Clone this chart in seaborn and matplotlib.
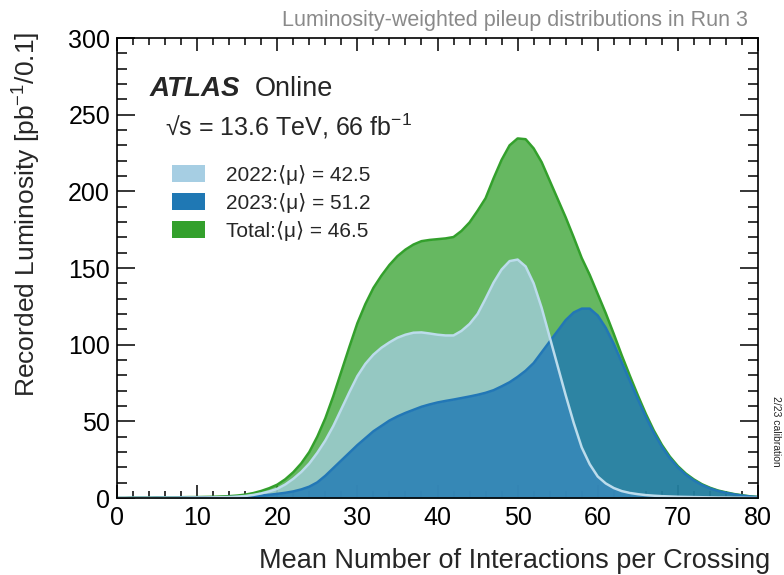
import numpy as np
import pandas as pd
import matplotlib
matplotlib.use("Agg")
import matplotlib.pyplot as plt
from matplotlib.patches import Patch
from matplotlib.ticker import MultipleLocator
import seaborn as sns

# ---------------- data ----------------
mu = list(range(0, 81))

lumi_2022 = [0.0, 0.0, 0.1, 0.1, 0.1, 0.1, 0.2, 0.2, 0.2, 0.3,
             0.3, 0.3, 0.4, 0.5, 0.6, 0.9, 1.3, 2.0, 3.0, 4.3,
             6.0, 8.8, 12.5, 17.0, 22.5, 29.5, 37.5, 47.0, 58.0, 69.0,
             79.5, 87.5, 93.5, 98.0, 101.5, 104.5, 106.5, 107.8, 108.0, 107.3,
             106.5, 106.0, 106.0, 109.0, 113.5, 120.0, 130.0, 140.5, 149.0, 154.5,
             155.5, 151.0, 140.0, 124.0, 105.0, 86.0, 67.0, 49.0, 33.0, 22.0,
             14.0, 9.5, 6.5, 4.5, 3.3, 2.5, 1.9, 1.5, 1.2, 1.0,
             0.8, 0.7, 0.6, 0.5, 0.4, 0.3, 0.3, 0.2, 0.2, 0.1,
             0.1]

lumi_2023 = [0.0, 0.0, 0.1, 0.1, 0.1, 0.2, 0.2, 0.2, 0.3, 0.3,
             0.3, 0.4, 0.4, 0.5, 0.6, 0.7, 0.9, 1.2, 1.6, 2.1,
             2.7, 3.4, 4.3, 5.6, 7.4, 10.2, 14.5, 19.5, 24.5, 29.5,
             34.5, 39.0, 43.5, 47.0, 50.5, 53.2, 55.5, 57.5, 59.5, 61.0,
             62.3, 63.3, 64.2, 65.2, 66.2, 67.3, 68.6, 70.3, 72.8, 75.5,
             79.0, 83.0, 88.0, 95.0, 102.0, 109.0, 116.0, 121.0, 123.5, 123.5,
             119.0, 111.0, 100.5, 88.5, 76.5, 64.5, 53.0, 42.5, 33.5, 26.0,
             20.0, 15.2, 11.5, 8.5, 6.3, 4.6, 3.4, 2.4, 1.6, 1.0,
             0.6]

lumi_total = [0.0, 0.0, 0.2, 0.2, 0.2, 0.3, 0.4, 0.4, 0.5, 0.6,
              0.6, 0.7, 0.8, 1.0, 1.2, 1.6, 2.2, 3.2, 4.6, 6.4,
              8.7, 12.2, 16.8, 22.6, 30.0, 40.0, 52.0, 66.5, 82.5, 98.5,
              114.0, 126.5, 137.0, 145.0, 152.0, 157.7, 162.0, 165.3, 167.5, 168.3,
              168.8, 169.3, 170.2, 174.2, 179.7, 187.3, 195.5, 208.5, 220.5, 230.0,
              234.5, 234.0, 228.0, 219.0, 207.0, 195.0, 183.0, 170.0, 156.5, 145.5,
              133.0, 120.5, 107.0, 93.0, 79.8, 67.0, 54.9, 44.0, 34.7, 27.0,
              20.8, 15.9, 12.1, 9.0, 6.7, 4.9, 3.7, 2.6, 1.8, 1.1,
              0.7]

legend_labels = ["2022:⟨μ⟩ = 42.5", "2023:⟨μ⟩ = 51.2", "Total:⟨μ⟩ = 46.5"]
x_ticks = [0, 10, 20, 30, 40, 50, 60, 70, 80]
y_ticks = [0, 50, 100, 150, 200, 250, 300]

df = pd.DataFrame({"mu": mu, "y2022": lumi_2022, "y2023": lumi_2023, "total": lumi_total})

# ---------------- style ----------------
sns.set_theme(style="ticks")
plt.rcParams["font.family"] = ["Liberation Sans", "DejaVu Sans"]
plt.rcParams["mathtext.fontset"] = "custom"
plt.rcParams["mathtext.rm"] = "Liberation Sans"
plt.rcParams["mathtext.it"] = "Liberation Sans:italic"
plt.rcParams["mathtext.bf"] = "Liberation Sans:bold"

c2022 = "#a6cee3"
c2023 = "#1f78b4"
ctot = "#33a02c"

fig = plt.figure(figsize=(7.84, 5.75), dpi=100)
ax = fig.add_axes([117 / 784, 1 - 498 / 575, 641 / 784, 460 / 575])

ax.fill_between(df["mu"], 0, df["total"], color=ctot, alpha=0.75, lw=0)
ax.fill_between(df["mu"], 0, df["y2022"], color=c2022, alpha=0.75, lw=0)
ax.fill_between(df["mu"], 0, df["y2023"], color=c2023, alpha=0.8, lw=0)
sns.lineplot(data=df, x="mu", y="total", ax=ax, color=ctot, lw=1.8)
sns.lineplot(data=df, x="mu", y="y2023", ax=ax, color="#2277b6", lw=1.8)
sns.lineplot(data=df, x="mu", y="y2022", ax=ax, color="#bcdcec", lw=1.8)

ax.set_xlim(0, 80)
ax.set_ylim(0, 300)
ax.set_xticks(x_ticks)
ax.set_yticks(y_ticks)
ax.xaxis.set_minor_locator(MultipleLocator(2))
ax.yaxis.set_minor_locator(MultipleLocator(10))
ax.set_xlabel("")
ax.set_ylabel("")
for s in ax.spines.values():
    s.set_visible(True)
    s.set_linewidth(1.2)
    s.set_color("black")
ax.tick_params(axis="both", which="both", direction="in", top=True, right=True,
               colors="black", width=1.1, labelsize=18)
ax.tick_params(axis="x", which="major", length=9.5, pad=6)
ax.tick_params(axis="x", which="minor", length=5)
ax.tick_params(axis="y", which="major", length=13, pad=5)
ax.tick_params(axis="y", which="minor", length=7)

handles = [Patch(facecolor=c2022, edgecolor="none"),
           Patch(facecolor=c2023, edgecolor="none"),
           Patch(facecolor=ctot, edgecolor="none")]
ax.legend(handles, legend_labels, loc="upper left", bbox_to_anchor=((172 - 117) / 641, (498 - 165) / 460),
          frameon=False, fontsize=15, handlelength=1.6, handleheight=0.9,
          handletextpad=1.0, labelspacing=0.38, borderaxespad=0, borderpad=0)

ax.text(0.0515, 0.874, "ATLAS", transform=ax.transAxes, fontsize=20,
        fontweight="bold", fontstyle="italic", va="baseline", ha="left")
ax.text((255 - 117) / 641, 0.874, "Online", transform=ax.transAxes, fontsize=19.5,
        va="baseline", ha="left")
ax.text(0.075, 0.787, "√s = 13.6 TeV, 66 fb$^{-1}$", transform=ax.transAxes,
        fontsize=18, va="baseline", ha="left")

fig.text(748 / 784, 1 - 26 / 575, "Luminosity-weighted pileup distributions in Run 3",
         ha="right", va="baseline", fontsize=15.5, color="#8a8a8a")
fig.text(770 / 784, 1 - 568 / 575, "Mean Number of Interactions per Crossing",
         ha="right", va="baseline", fontsize=19.5)
fig.text(27 / 784, 1 - 214 / 575, "Recorded Luminosity [pb$^{-1}$/0.1]",
         ha="center", va="center", rotation=90, fontsize=19)
fig.text(776 / 784, 1 - 431 / 575, "2/23 calibration", ha="center", va="center",
         rotation=-90, fontsize=7.5)

fig.savefig("out.png", dpi=100)
